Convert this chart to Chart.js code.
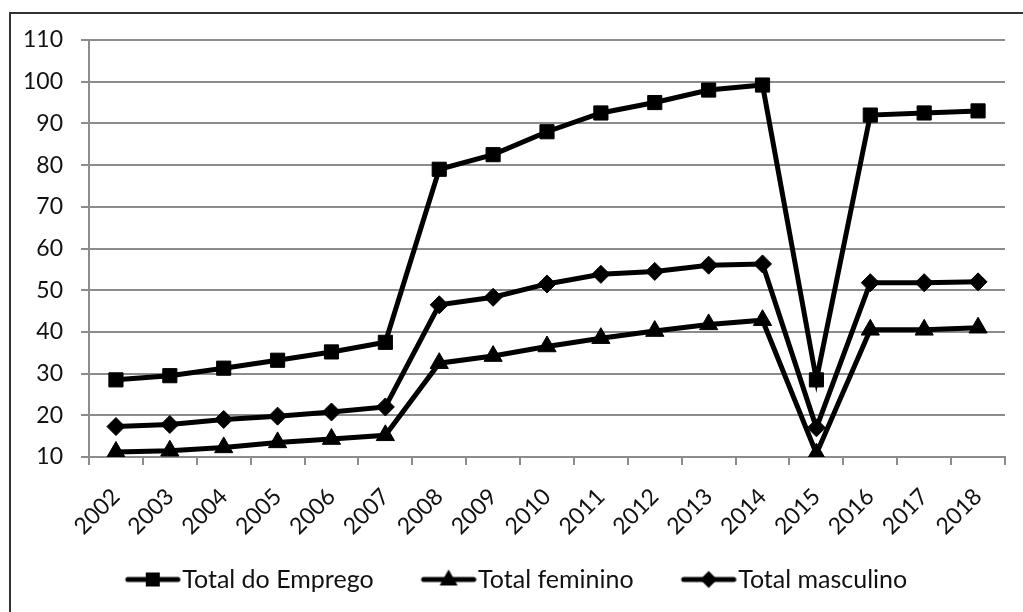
<!DOCTYPE html>
<html>
<head>
<meta charset="utf-8">
<script src="https://cdn.jsdelivr.net/npm/chart.js@4.4.1/dist/chart.umd.min.js"></script>
<style>
  html, body { margin: 0; padding: 0; background: #fff; overflow: hidden; }
  #frame { position: absolute; left: 9px; top: 12px; width: 1100px; height: 700px;
           border-left: 2px solid #333; border-top: 2px solid #333; }
  #wrap { position: absolute; left: 0; top: 0; width: 1023px; height: 612px; }
</style>
</head>
<body>
<div id="frame"></div>
<div id="wrap"><canvas id="myChart"></canvas></div>
<script>
// Employment series 2002-2018
const years = ['2002', '2003', '2004', '2005', '2006', '2007', '2008', '2009', '2010',
               '2011', '2012', '2013', '2014', '2015', '2016', '2017', '2018'];

const totalEmprego = [28.5, 29.5, 31.3, 33.2, 35.2, 37.5, 79, 82.5, 88, 92.5, 95, 98, 99.2, 28.5, 92, 92.5, 93];
const totalFeminino = [11.2, 11.5, 12.3, 13.5, 14.3, 15.2, 32.5, 34.2, 36.5, 38.5, 40.2, 41.8, 42.8, 10.8, 40.5, 40.5, 41];
const totalMasculino = [17.3, 17.8, 19, 19.8, 20.8, 22, 46.5, 48.3, 51.5, 53.8, 54.5, 56, 56.3, 17, 51.8, 51.8, 52];

const seriesLabels = ['Total do Emprego', 'Total feminino', 'Total masculino'];

const FONT = 'Lato, "Open Sans", sans-serif';

// line + marker icon for the legend (blank lead on the left gives the gap between items)
function legendIcon(kind) {
    const c = document.createElement('canvas');
    c.width = 94;
    c.height = 24;
    const g = c.getContext('2d');
    const x0 = 38, x1 = 94, cx = (x0 + x1) / 2, cy = 12;
    g.strokeStyle = '#000';
    g.fillStyle = '#000';
    g.lineWidth = 5;
    g.lineCap = 'round';
    g.beginPath();
    g.moveTo(x0 + 3, cy);
    g.lineTo(x1 - 3, cy);
    g.stroke();
    g.beginPath();
    if (kind === 'rect') {
        g.rect(cx - 7, cy - 7, 14, 14);
    } else if (kind === 'triangle') {
        g.moveTo(cx, cy - 10);
        g.lineTo(cx + 9, cy + 6);
        g.lineTo(cx - 9, cy + 6);
        g.closePath();
    } else {
        g.moveTo(cx, cy - 8.5);
        g.lineTo(cx + 8.5, cy);
        g.lineTo(cx, cy + 8.5);
        g.lineTo(cx - 8.5, cy);
        g.closePath();
    }
    g.fill();
    return c;
}

function makeDataset(label, data, style, radius) {
    return {
        label: label,
        data: data,
        borderColor: '#000',
        backgroundColor: '#000',
        borderWidth: 5,
        pointStyle: style,
        pointRadius: radius,
        pointHoverRadius: radius,
        pointBorderWidth: 1,
        pointBackgroundColor: '#000',
        pointBorderColor: '#000',
        tension: 0,
        fill: false
    };
}

const ctx = document.getElementById('myChart').getContext('2d');
const chart = new Chart(ctx, {
    type: 'line',
    data: {
        labels: years,
        datasets: [
            makeDataset(seriesLabels[0], totalEmprego, 'rect', 10),
            makeDataset(seriesLabels[1], totalFeminino, 'triangle', 10.5),
            makeDataset(seriesLabels[2], totalMasculino, 'rectRot', 9)
        ]
    },
    options: {
        responsive: true,
        maintainAspectRatio: false,
        animation: false,
        layout: {
            padding: { left: 0, right: 18, top: 40, bottom: 10 }
        },
        scales: {
            x: {
                offset: true,
                grid: {
                    offset: true,
                    drawOnChartArea: false,
                    color: '#8c8c8c',
                    lineWidth: 2,
                    tickLength: 8
                },
                border: { color: '#8c8c8c', width: 2 },
                ticks: {
                    color: '#111',
                    font: { family: FONT, size: 23 },
                    minRotation: 45,
                    maxRotation: 45,
                    autoSkip: false,
                    padding: 18
                },
                afterFit: (scale) => { scale.height = 90; }
            },
            y: {
                min: 10,
                max: 110,
                ticks: {
                    stepSize: 10,
                    color: '#111',
                    font: { family: FONT, size: 23 },
                    padding: 18
                },
                grid: {
                    color: '#8c8c8c',
                    lineWidth: 2,
                    tickLength: 8
                },
                border: { color: '#8c8c8c', width: 2 },
                afterFit: (scale) => { scale.width = 89; }
            }
        },
        plugins: {
            tooltip: { enabled: false },
            legend: {
                position: 'bottom',
                labels: {
                    usePointStyle: true,
                    pointStyleWidth: 72,
                    padding: 20,
                    color: '#111',
                    font: { family: FONT, size: 25 },
                    generateLabels: (chart) => {
                        const items = Chart.defaults.plugins.legend.labels.generateLabels(chart);
                        const kinds = ['rect', 'triangle', 'rectRot'];
                        items.forEach((item, i) => {
                            item.pointStyle = legendIcon(kinds[i]);
                        });
                        return items;
                    }
                }
            }
        }
    }
});
</script>
</body>
</html>
